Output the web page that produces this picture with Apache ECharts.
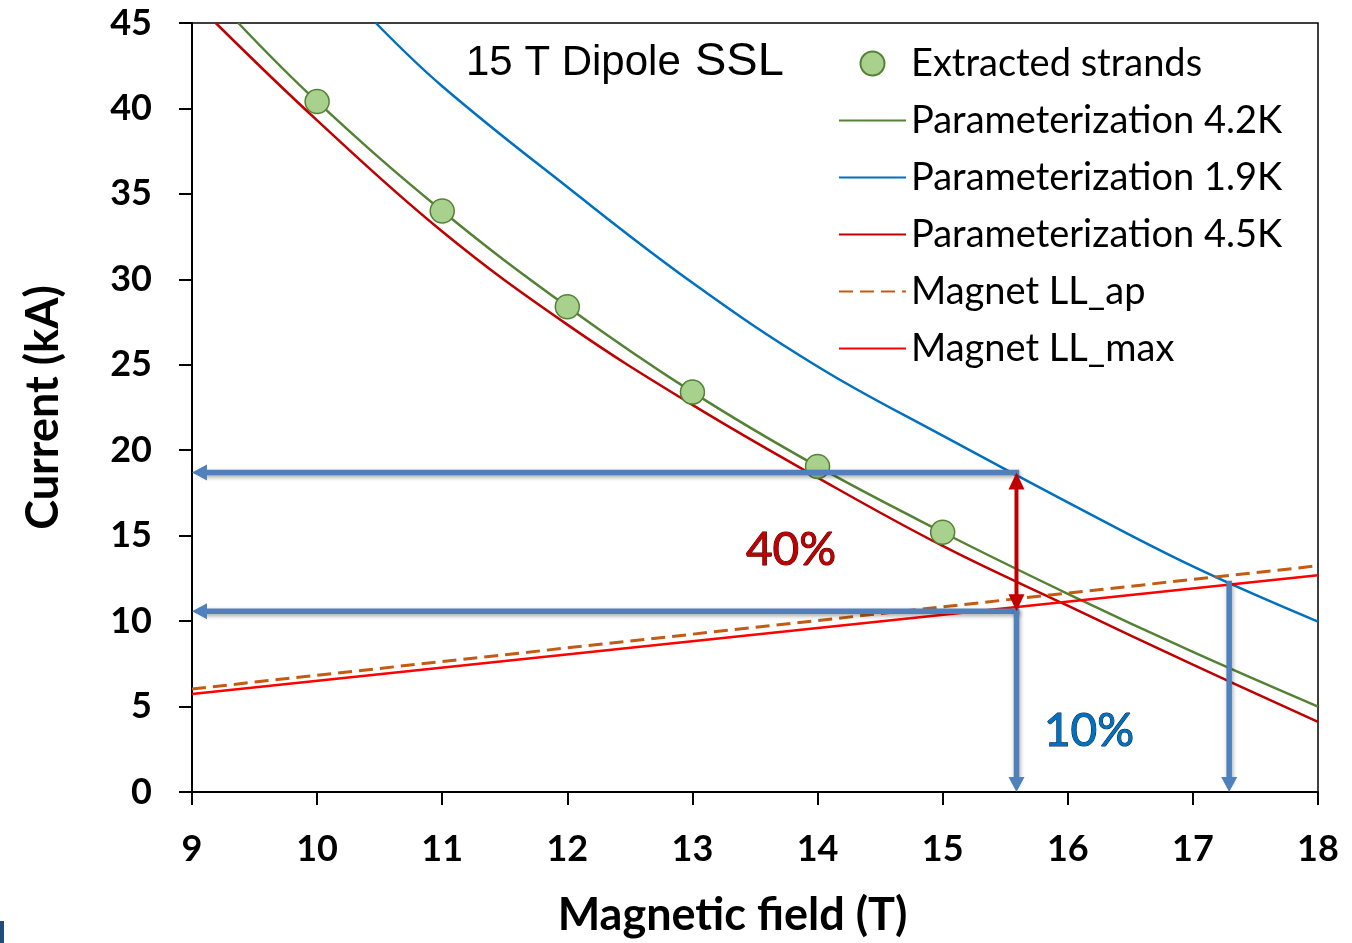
<!DOCTYPE html>
<html>
<head>
<meta charset="utf-8">
<script src="https://cdn.jsdelivr.net/npm/echarts@6/dist/echarts.min.js"></script>
<style>
  html, body { margin: 0; padding: 0; background: #fff; }
  #chart { width: 1352px; height: 943px; }
</style>
</head>
<body>
<div id="chart"></div>
<script>
// Critical current of the extracted strands and the fitted Ic(B) parameterizations
const strandField = [10, 11, 12, 13, 14, 15];
const strandCurrent = [40.4, 34.0, 28.4, 23.4, 19.05, 15.2];

const field42K = [9.37, 10, 11, 12, 13, 14, 15, 16, 17, 18];
const current42K = [45, 40.4, 34.0, 28.4, 23.4, 19.05, 15.2, 11.6, 8.2, 5.0];

const field19K = [10.47, 11, 12, 13, 14, 15, 16, 17, 18];
const current19K = [45, 41.3, 35.4, 29.8, 24.9, 20.85, 16.95, 13.2, 9.97];

const field45K = [9.19, 10, 11, 12, 13, 14, 15, 16, 17, 18];
const current45K = [45, 39.3, 32.8, 27.35, 22.65, 18.4, 14.4, 10.9, 7.45, 4.1];

// Magnet load lines
const loadLineField = [9, 18];
const loadLineAp = [6.03, 13.24];
const loadLineMax = [5.74, 12.69];

// Margin arrows: [fromField, fromCurrent, toField, toCurrent]
const marginArrows = [
  [15.59, 18.69, 9, 18.69],
  [15.59, 10.57, 9, 10.57],
  [15.59, 10.57, 15.59, 0],
  [17.29, 12.2, 17.29, 0]
];
const currentGapArrow = [
  [15.59, 18.69, 15.59, 10.57]
];

const seriesNames = [
  'Extracted strands',
  'Parameterization 4.2K',
  'Parameterization 1.9K',
  'Parameterization 4.5K',
  'Magnet LL_ap',
  'Magnet LL_max'
];

const pairs = (xs, ys) => xs.map((x, i) => [x, ys[i]]);

// Draws a straight arrow between two data points, optionally with a head at both ends
function arrowRenderer(doubleHead, color, width, headLen, headWid, shadow) {
  return function (params, api) {
    const a = api.coord([api.value(0), api.value(1)]);
    const b = api.coord([api.value(2), api.value(3)]);
    const dx = b[0] - a[0], dy = b[1] - a[1];
    const len = Math.hypot(dx, dy) || 1;
    const ux = dx / len, uy = dy / len;
    const nx = -uy, ny = ux;
    const head = (tip, dir) => {
      const bx = tip[0] - dir[0] * headLen, by = tip[1] - dir[1] * headLen;
      return [[tip[0], tip[1]],
              [bx + nx * headWid / 2, by + ny * headWid / 2],
              [bx - nx * headWid / 2, by - ny * headWid / 2]];
    };
    const start = doubleHead ? [a[0] + ux * headLen * 0.8, a[1] + uy * headLen * 0.8] : a;
    const end = [b[0] - ux * headLen * 0.8, b[1] - uy * headLen * 0.8];
    const shadowStyle = shadow ? {
      shadowColor: 'rgba(0,0,0,0.35)', shadowBlur: 4, shadowOffsetX: 1, shadowOffsetY: 2
    } : {};
    const children = [
      { type: 'line',
        shape: { x1: start[0], y1: start[1], x2: end[0], y2: end[1] },
        style: Object.assign({ stroke: color, lineWidth: width, lineCap: 'square' }, shadowStyle) },
      { type: 'polygon', shape: { points: head(b, [ux, uy]) }, style: { fill: color } }
    ];
    if (doubleHead) {
      children.push({ type: 'polygon', shape: { points: head(a, [-ux, -uy]) }, style: { fill: color } });
    }
    return { type: 'group', children };
  };
}

const tickFont = { fontFamily: 'Lato', fontWeight: 'bold', fontSize: 36, color: '#000' };
const titleFont = { fontFamily: 'Lato', fontWeight: 'bold', fontSize: 45, color: '#000' };

// Line series only show their stroke in the legend
const hiddenMarker = { opacity: 0, borderWidth: 0 };

const chart = echarts.init(document.getElementById('chart'), null, { renderer: 'canvas' });

chart.setOption({
  animation: false,
  backgroundColor: '#fff',
  grid: {
    left: 192, right: 34, top: 23, bottom: 150,
    show: true, borderColor: '#000', borderWidth: 1.5, backgroundColor: 'transparent'
  },
  xAxis: {
    type: 'value', min: 9, max: 18, interval: 1,
    name: 'Magnetic field (T)', nameLocation: 'middle', nameGap: 101,
    nameTextStyle: Object.assign({ padding: [0, 45, 0, 0] }, titleFont),
    axisLine: { show: true, onZero: false, lineStyle: { color: '#000', width: 2 } },
    axisTick: { show: true, inside: false, length: 13, lineStyle: { color: '#000', width: 2 } },
    axisLabel: Object.assign({ margin: 39 }, tickFont),
    splitLine: { show: false }
  },
  yAxis: {
    type: 'value', min: 0, max: 45, interval: 5,
    name: 'Current (kA)', nameLocation: 'middle', nameGap: 126,
    nameTextStyle: titleFont,
    axisLine: { show: true, onZero: false, lineStyle: { color: '#000', width: 2 } },
    axisTick: { show: true, inside: false, length: 13, lineStyle: { color: '#000', width: 2 } },
    axisLabel: Object.assign({ margin: 40 }, tickFont),
    splitLine: { show: false }
  },
  legend: {
    data: [
      { name: seriesNames[0] },
      { name: seriesNames[1], itemStyle: hiddenMarker },
      { name: seriesNames[2], itemStyle: hiddenMarker },
      { name: seriesNames[3], itemStyle: hiddenMarker },
      { name: seriesNames[4], itemStyle: hiddenMarker },
      { name: seriesNames[5], itemStyle: hiddenMarker }
    ],
    orient: 'vertical',
    left: 838, top: 35,
    padding: 0,
    itemWidth: 67, itemHeight: 24, itemGap: 0,
    selectedMode: false,
    textStyle: { fontFamily: 'Lato', fontSize: 38, color: '#000', lineHeight: 57 }
  },
  series: [
    {
      name: 'Parameterization 4.2K', type: 'line', data: pairs(field42K, current42K),
      symbol: 'none', smooth: 0.4,
      lineStyle: { color: '#548235', width: 2.5 }, itemStyle: { color: '#548235' }, z: 2
    },
    {
      name: 'Parameterization 1.9K', type: 'line', data: pairs(field19K, current19K),
      symbol: 'none', smooth: 0.4,
      lineStyle: { color: '#0070c0', width: 2.5 }, itemStyle: { color: '#0070c0' }, z: 2
    },
    {
      name: 'Parameterization 4.5K', type: 'line', data: pairs(field45K, current45K),
      symbol: 'none', smooth: 0.4,
      lineStyle: { color: '#c00000', width: 2.5 }, itemStyle: { color: '#c00000' }, z: 2
    },
    {
      name: 'Magnet LL_ap', type: 'line', data: pairs(loadLineField, loadLineAp),
      symbol: 'none',
      lineStyle: { color: '#c55a11', width: 3, type: [14, 7] }, itemStyle: { color: '#c55a11' }, z: 2
    },
    {
      name: 'Magnet LL_max', type: 'line', data: pairs(loadLineField, loadLineMax),
      symbol: 'none',
      lineStyle: { color: '#ff0000', width: 2.5 }, itemStyle: { color: '#ff0000' }, z: 2
    },
    {
      name: 'Extracted strands', type: 'scatter', data: pairs(strandField, strandCurrent),
      symbol: 'circle', symbolSize: 24,
      itemStyle: { color: '#a9d18e', borderColor: '#548235', borderWidth: 1.5, opacity: 1 }, z: 3
    },
    {
      name: 'margin', type: 'custom', data: marginArrows,
      encode: { x: [0, 2], y: [1, 3] },
      renderItem: arrowRenderer(false, '#4f81bd', 5.5, 15, 16, true),
      silent: true, z: 4
    },
    {
      name: 'gap', type: 'custom', data: currentGapArrow,
      encode: { x: [0, 2], y: [1, 3] },
      renderItem: arrowRenderer(true, '#c00000', 4, 17, 16, false),
      silent: true, z: 5
    }
  ],
  graphic: [
    { type: 'text', x: 466, y: 63, z: 10,
      style: { text: '15 T Dipole', fontFamily: 'Liberation Sans', fontSize: 42, fill: '#000',
               align: 'left', verticalAlign: 'middle' } },
    { type: 'text', x: 695, y: 62, z: 10,
      style: { text: 'SSL', fontFamily: 'Liberation Sans', fontSize: 47, fill: '#000',
               align: 'left', verticalAlign: 'middle' } },
    { type: 'text', x: 791, y: 550, z: 10,
      style: { text: '40%', fontFamily: 'Lato', fontSize: 46, fill: '#c00000',
               stroke: '#3a0000', lineWidth: 1, align: 'center', verticalAlign: 'middle' } },
    { type: 'text', x: 1089, y: 731, z: 10,
      style: { text: '10%', fontFamily: 'Lato', fontSize: 46, fill: '#0070c0',
               stroke: '#0b1a30', lineWidth: 1, align: 'center', verticalAlign: 'middle' } },
    { type: 'rect', shape: { x: 0, y: 921, width: 4, height: 22 }, style: { fill: '#1f4e79' } }
  ]
});
</script>
</body>
</html>
